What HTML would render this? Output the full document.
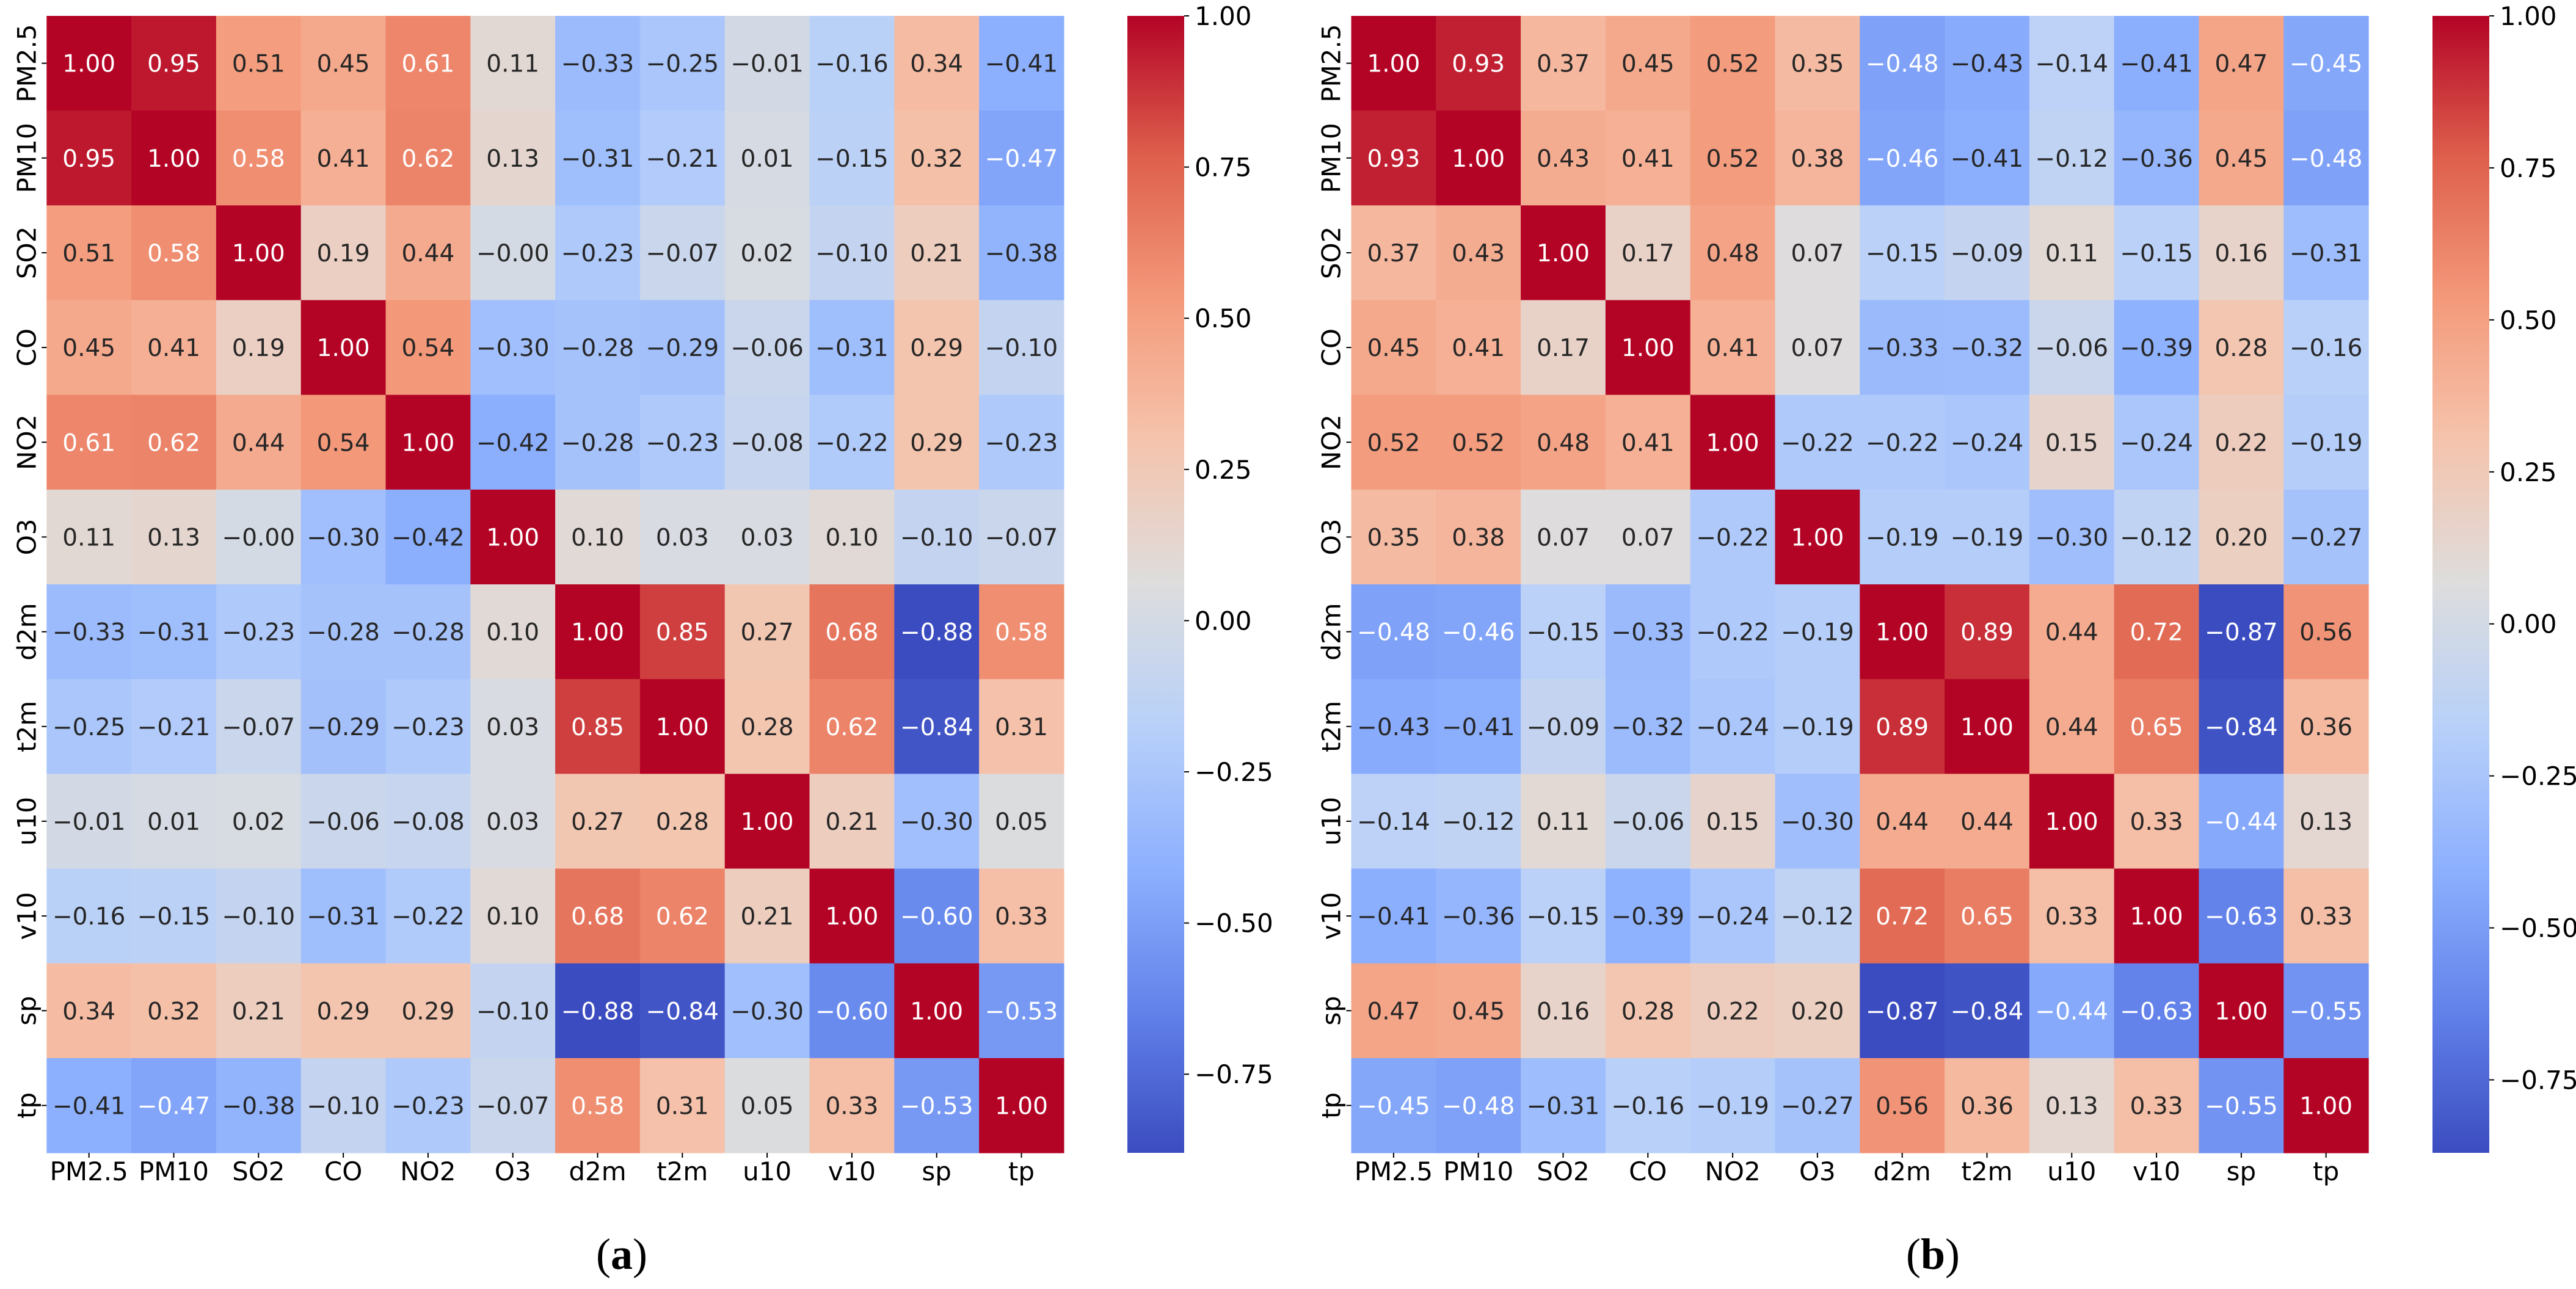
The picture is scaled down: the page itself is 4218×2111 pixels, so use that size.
<!DOCTYPE html>
<html><head><meta charset="utf-8"><style>
html,body{margin:0;padding:0;background:#fff;}
svg{display:block;}
</style></head><body>
<svg id="chart" xmlns="http://www.w3.org/2000/svg" width="4218" height="2111" viewBox="0 0 4218 2111">
<rect width="4218" height="2111" fill="#fff"/>
<text x="1018" y="2078" font-family="Liberation Serif, serif" font-size="72" text-anchor="middle">(<tspan font-weight="bold">a</tspan>)</text>
<text x="3165" y="2078" font-family="Liberation Serif, serif" font-size="72" text-anchor="middle">(<tspan font-weight="bold">b</tspan>)</text>
</svg>
<script>
const labels = ["PM2.5","PM10","SO2","CO","NO2","O3","d2m","t2m","u10","v10","sp","tp"];
const matrixA = [
[1.00,0.95,0.51,0.45,0.61,0.11,-0.33,-0.25,-0.01,-0.16,0.34,-0.41],
[0.95,1.00,0.58,0.41,0.62,0.13,-0.31,-0.21,0.01,-0.15,0.32,-0.47],
[0.51,0.58,1.00,0.19,0.44,-0.00,-0.23,-0.07,0.02,-0.10,0.21,-0.38],
[0.45,0.41,0.19,1.00,0.54,-0.30,-0.28,-0.29,-0.06,-0.31,0.29,-0.10],
[0.61,0.62,0.44,0.54,1.00,-0.42,-0.28,-0.23,-0.08,-0.22,0.29,-0.23],
[0.11,0.13,-0.00,-0.30,-0.42,1.00,0.10,0.03,0.03,0.10,-0.10,-0.07],
[-0.33,-0.31,-0.23,-0.28,-0.28,0.10,1.00,0.85,0.27,0.68,-0.88,0.58],
[-0.25,-0.21,-0.07,-0.29,-0.23,0.03,0.85,1.00,0.28,0.62,-0.84,0.31],
[-0.01,0.01,0.02,-0.06,-0.08,0.03,0.27,0.28,1.00,0.21,-0.30,0.05],
[-0.16,-0.15,-0.10,-0.31,-0.22,0.10,0.68,0.62,0.21,1.00,-0.60,0.33],
[0.34,0.32,0.21,0.29,0.29,-0.10,-0.88,-0.84,-0.30,-0.60,1.00,-0.53],
[-0.41,-0.47,-0.38,-0.10,-0.23,-0.07,0.58,0.31,0.05,0.33,-0.53,1.00]];
const matrixB = [
[1.00,0.93,0.37,0.45,0.52,0.35,-0.48,-0.43,-0.14,-0.41,0.47,-0.45],
[0.93,1.00,0.43,0.41,0.52,0.38,-0.46,-0.41,-0.12,-0.36,0.45,-0.48],
[0.37,0.43,1.00,0.17,0.48,0.07,-0.15,-0.09,0.11,-0.15,0.16,-0.31],
[0.45,0.41,0.17,1.00,0.41,0.07,-0.33,-0.32,-0.06,-0.39,0.28,-0.16],
[0.52,0.52,0.48,0.41,1.00,-0.22,-0.22,-0.24,0.15,-0.24,0.22,-0.19],
[0.35,0.38,0.07,0.07,-0.22,1.00,-0.19,-0.19,-0.30,-0.12,0.20,-0.27],
[-0.48,-0.46,-0.15,-0.33,-0.22,-0.19,1.00,0.89,0.44,0.72,-0.87,0.56],
[-0.43,-0.41,-0.09,-0.32,-0.24,-0.19,0.89,1.00,0.44,0.65,-0.84,0.36],
[-0.14,-0.12,0.11,-0.06,0.15,-0.30,0.44,0.44,1.00,0.33,-0.44,0.13],
[-0.41,-0.36,-0.15,-0.39,-0.24,-0.12,0.72,0.65,0.33,1.00,-0.63,0.33],
[0.47,0.45,0.16,0.28,0.22,0.20,-0.87,-0.84,-0.44,-0.63,1.00,-0.55],
[-0.45,-0.48,-0.31,-0.16,-0.19,-0.27,0.56,0.36,0.13,0.33,-0.55,1.00]];
const cbTicks = [1.00,0.75,0.50,0.25,0.00,-0.25,-0.50,-0.75];

const NS = "http://www.w3.org/2000/svg";
const svg = document.getElementById('chart');
const CM = [[0,59,76,192],[0.125,98,130,234],[0.25,141,176,254],[0.375,184,208,249],[0.5,221,221,221],[0.625,245,196,173],[0.75,244,154,123],[0.875,222,96,77],[1,180,4,38]];
function cmap(t){
  t=Math.max(0,Math.min(1,t));
  for(let i=1;i<CM.length;i++){
    if(t<=CM[i][0]){
      const a=CM[i-1],b=CM[i],f=(t-a[0])/(b[0]-a[0]);
      return [0,1,2].map(k=>Math.round(a[k+1]+(b[k+1]-a[k+1])*f));
    }
  }
  return [180,4,38];
}
function lum(c){
  const l=c.map(v=>{v/=255;return v<=0.03928?v/12.92:Math.pow((v+0.055)/1.055,2.4);});
  return 0.2126*l[0]+0.7152*l[1]+0.0722*l[2];
}
function mk(tag,attrs,parent){
  const e=document.createElementNS(NS,tag);
  for(const k in attrs) e.setAttribute(k,attrs[k]);
  (parent||svg).appendChild(e);
  return e;
}
function fmt(v){
  const s=Math.abs(v).toFixed(2);
  return (v<0||(v===0&&1/v<0))?'\u2212'+s:s;
}
const FONT='"DejaVu Sans","Liberation Sans",sans-serif';
const TOP=26, BOT=1888, CW=138.8;
const CH=(BOT-TOP)/labels.length;

function drawPanel(mat, left, cbLeft, id){
  let vmin=Infinity; mat.forEach(r=>r.forEach(v=>{if(v<vmin)vmin=v;}));
  const vmax=1;
  const norm=v=>(v-vmin)/(vmax-vmin);
  const xS=j=>left+j*CW;
  const yS=i=>TOP+i*CH;
  const g=mk('g',{});
  
  
  mat.forEach((row,i)=>row.forEach((v,j)=>{
    const c=cmap(norm(v));
    const r=mk('rect',{x:xS(j),y:yS(i),width:CW+0.6,height:CH+0.6,fill:`rgb(${c[0]},${c[1]},${c[2]})`},g);
    
    
    const t=mk('text',{x:xS(j)+CW/2,y:yS(i)+CH/2+14,'text-anchor':'middle','font-family':FONT,'font-size':39,fill:lum(c)<=0.408?'#ffffff':'#262626'},g);
    
    
    t.textContent=fmt(v);
  }));
  labels.forEach((l,j)=>{
    const x=xS(j)+CW/2;
    mk('line',{x1:x,x2:x,y1:BOT,y2:BOT+8,stroke:'#000','stroke-width':2});
    const t=mk('text',{x:x,y:BOT+45,'text-anchor':'middle','font-family':FONT,'font-size':42,fill:'#000'});
    
    
    t.textContent=l;
  });
  labels.forEach((l,i)=>{
    const y=yS(i)+CH/2;
    mk('line',{x1:left-8,x2:left,y1:y,y2:y,stroke:'#000','stroke-width':2});
    const tx=left-18;
    const t=mk('text',{x:tx,y:y,'text-anchor':'middle','font-family':FONT,'font-size':42,fill:'#000',transform:`rotate(-90 ${tx} ${y})`});
    
    
    t.textContent=l;
  });
  const gid='grad'+id;
  const defs=mk('defs',{});
  const lg=mk('linearGradient',{id:gid,x1:0,y1:1,x2:0,y2:0},defs);
  for(let k=0;k<=40;k++){
    const c=cmap(k/40);
    mk('stop',{offset:k/40,'stop-color':`rgb(${c[0]},${c[1]},${c[2]})`},lg);
  }
  const cb=mk('rect',{x:cbLeft,y:TOP,width:93,height:BOT-TOP,fill:`url(#${gid})`});
  
  
  const cy=v=>TOP+(vmax-v)/(vmax-vmin)*(BOT-TOP);
  cbTicks.forEach(v=>{
    const y=cy(v);
    mk('line',{x1:cbLeft+93,x2:cbLeft+101,y1:y,y2:y,stroke:'#000','stroke-width':2});
    const t=mk('text',{x:cbLeft+110,y:y+15,'font-family':FONT,'font-size':42,fill:'#000'});
    
    
    t.textContent=fmt(v);
  });
}
drawPanel(matrixA,76.3,1846,'a');
drawPanel(matrixB,2212.5,3983,'b');
</script>
</body></html>
